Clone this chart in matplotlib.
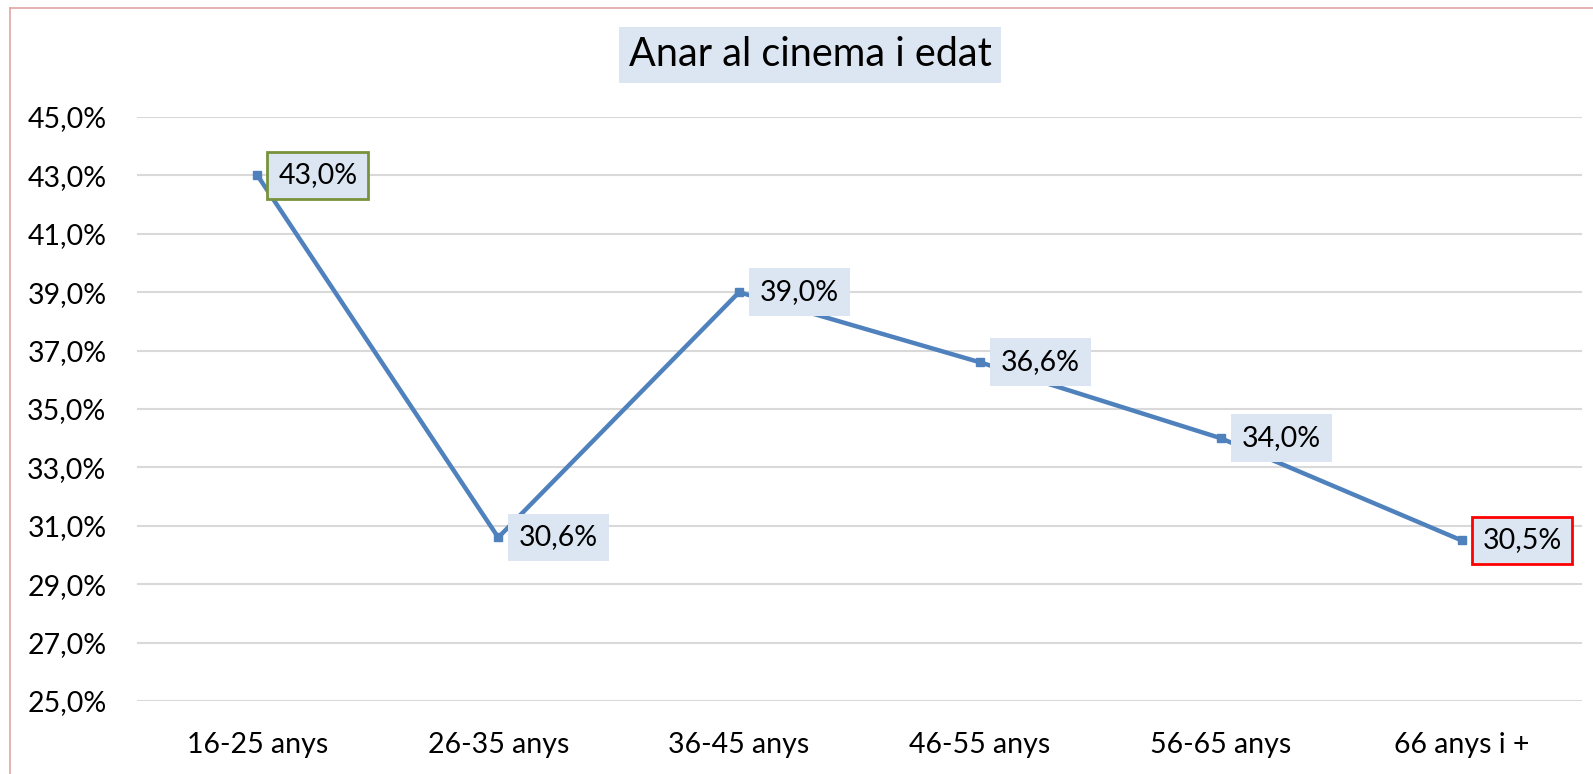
import numpy as np
import matplotlib.pyplot as plt
from matplotlib.ticker import FuncFormatter
from matplotlib.lines import Line2D

categories = ['16-25 anys', '26-35 anys', '36-45 anys', '46-55 anys', '56-65 anys', '66 anys i +']
values = [43.0, 30.6, 39.0, 36.6, 34.0, 30.5]
label_edges = ['#77933c', None, None, None, None, '#ff0000']
yticks = [25, 27, 29, 31, 33, 35, 37, 39, 41, 43, 45]
title = 'Anar al cinema i edat'

plt.rcParams['font.family'] = ['Lato', 'DejaVu Sans']

W, H = 1593, 774
fig = plt.figure(figsize=(W / 100, H / 100), dpi=100)
ax = fig.add_axes([137 / W, 1 - 701 / H, (1582 - 137) / W, (701 - 117) / H])

def pct(v, pos=None):
    return f'{v:.1f}%'.replace('.', ',')

x = list(range(len(categories)))
ax.plot(x, values, color='#4f81bd', lw=3.2, marker='s', ms=5.5, zorder=3)

for xi, v, ec in zip(x, values, label_edges):
    ax.annotate(pct(v), (xi, v), xytext=(15, 0), textcoords='offset points',
                ha='left', va='center', fontsize=20.5, color='black',
                bbox=dict(boxstyle='square,pad=0.38', fc='#dce6f2',
                          ec=ec if ec else 'none', lw=2 if ec else 0),
                zorder=4)

ax.set_xlim(-0.5, len(categories) - 0.5)
ax.set_ylim(25, 45)
ax.set_yticks(yticks)
ax.yaxis.set_major_formatter(FuncFormatter(pct))
ax.set_xticks(x)
ax.set_xticklabels(categories)
ax.tick_params(axis='both', length=0, labelsize=20.5)
ax.tick_params(axis='y', pad=22)
ax.tick_params(axis='x', pad=22)
ax.grid(axis='y', color='#d9d9d9', lw=1.5)
ax.set_axisbelow(True)
for s in ax.spines.values():
    s.set_visible(False)

fig.text(810 / W, 1 - 55 / H, title, ha='center', va='center', fontsize=28.5,
         bbox=dict(boxstyle='square,pad=0.25', fc='#dce6f2', ec='none'))

# chart border (left and top edges visible)
fig.add_artist(Line2D([10 / W, 10 / W], [0, 1 - 8 / H], color='#e3a3a3', lw=1.2, transform=fig.transFigure))
fig.add_artist(Line2D([10 / W, 1], [1 - 8 / H, 1 - 8 / H], color='#e3a3a3', lw=1.2, transform=fig.transFigure))

fig.savefig('out.png', dpi=100)
